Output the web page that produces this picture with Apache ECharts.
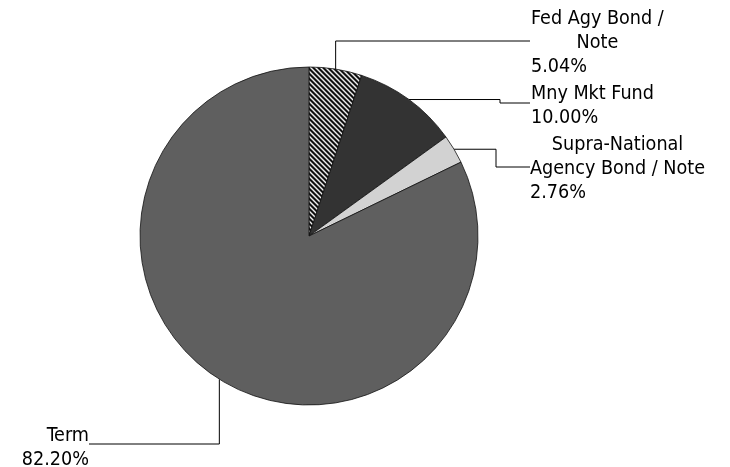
<!DOCTYPE html>
<html>
<head>
<meta charset="utf-8">
<script src="https://cdn.jsdelivr.net/npm/echarts@6/dist/echarts.min.js"></script>
<style>html,body{margin:0;padding:0;background:#fff}#c{width:730px;height:467px}</style>
</head>
<body>
<div id="c"></div>
<script>
// Data
var categories = ['Fed Agy Bond /\nNote', 'Mny Mkt Fund', 'Supra-National\nAgency Bond / Note', 'Term'];
var values = [5.04, 10.00, 2.76, 82.20];
var percentLabels = ['5.04%', '10.00%', '2.76%', '82.20%'];

function makeHatch() {
  var c = document.createElement('canvas');
  c.width = 5; c.height = 5;
  var ctx = c.getContext('2d');
  var cols = ['#111', '#111', '#7a7a7a', '#eeeeee', '#8a8a8a'];
  for (var y = 0; y < 5; y++) for (var x = 0; x < 5; x++) {
    ctx.fillStyle = cols[((x - y) % 5 + 5) % 5];
    ctx.fillRect(x, y, 1, 1);
  }
  return c;
}
var sliceColors = [{image: makeHatch(), repeat: 'repeat'}, '#333333', '#d2d2d2', '#5f5f5f'];

// label placement (layout only)
var labelPos = [
  {x: 531, y: 7, align: 'left'},
  {x: 531, y: 82, align: 'left'},
  {x: 530, y: 133, align: 'left'},
  {x: 89, y: 424, align: 'right'}
];

var chart = echarts.init(document.getElementById('c'), null, {renderer: 'canvas'});
var font = '"DejaVu Sans Condensed", "Liberation Sans", sans-serif';
var fs = 19.6;
var data = categories.map(function (n, i) {
  return {name: n, value: values[i], itemStyle: {color: sliceColors[i]}};
});
chart.setOption({
  animation: false,
  series: [{
    type: 'pie',
    center: [309, 236],
    radius: 169,
    startAngle: 90,
    clockwise: true,
    avoidLabelOverlap: false,
    data: data,
    itemStyle: {borderColor: '#111', borderWidth: 0.8},
    emphasis: {disabled: true},
    label: {
      show: true,
      position: 'outside',
      fontFamily: font,
      fontSize: fs,
      lineHeight: 24,
      color: '#000',
      formatter: function (p) {
        var i = p.dataIndex;
        var tag = i === 3 ? 'r' : 'c';
        var lines = categories[i].split('\n').map(function (s) { return '{' + tag + '|' + s + '}'; });
        lines.push('{' + (i === 3 ? 'r' : 'l') + '|' + percentLabels[i] + '}');
        return lines.join('\n');
      },
      rich: {
        c: {align: 'center', fontFamily: font, fontSize: fs, lineHeight: 24, color: '#000'},
        l: {align: 'left', fontFamily: font, fontSize: fs, lineHeight: 24, color: '#000'},
        r: {align: 'right', fontFamily: font, fontSize: fs, lineHeight: 24, color: '#000'}
      }
    },
    labelLine: {show: true, length: 10, length2: 10, lineStyle: {color: '#000', width: 1}},
    labelLayout: function (p) {
      var i = p.dataIndex;
      var s = p.labelLinePoints[0];
      var pts;
      if (i === 0) pts = [s, [s[0], 41], [530, 41]];
      else if (i === 1) pts = [s, [500, s[1]], [500, 103], [530, 103]];
      else if (i === 2) pts = [s, [496, s[1]], [496, 167], [530, 167]];
      else pts = [s, [s[0], 444], [89, 444]];
      var lp = labelPos[i];
      return {x: lp.x, y: lp.y, align: lp.align, verticalAlign: 'top', labelLinePoints: pts};
    }
  }]
});
</script>
</body>
</html>
